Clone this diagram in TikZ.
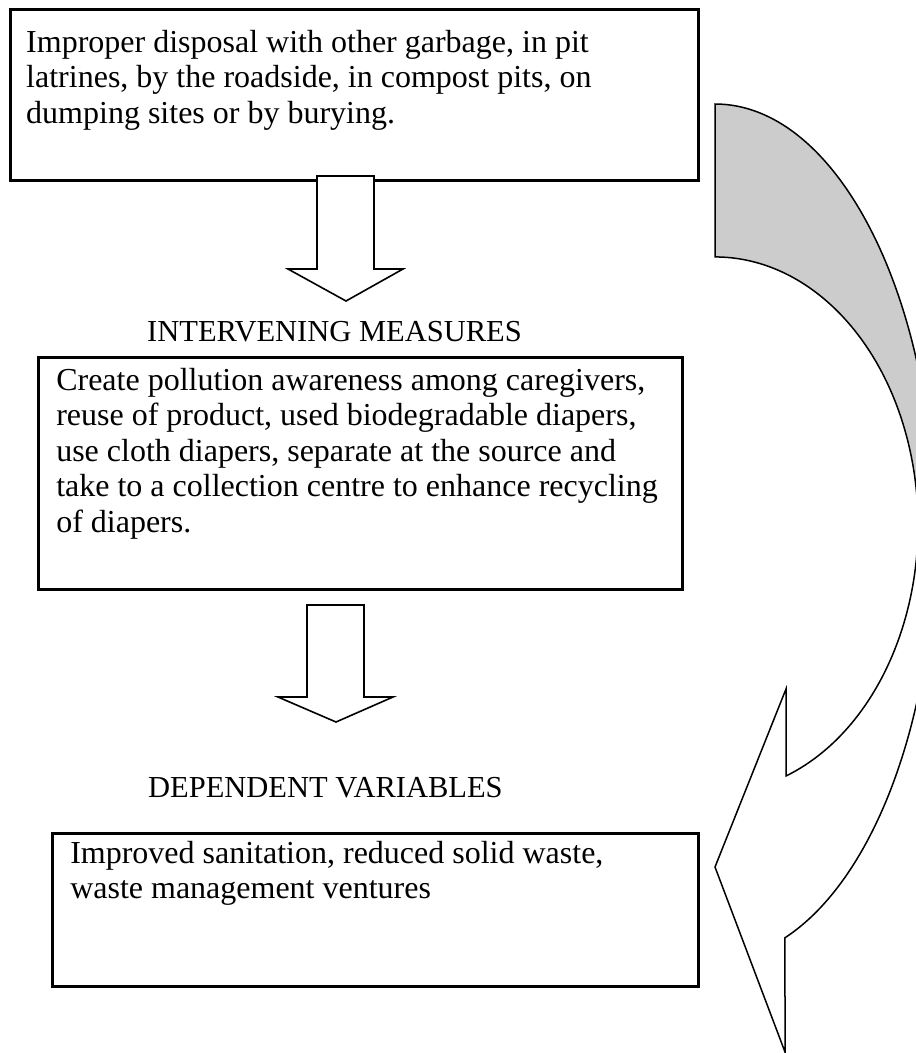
\documentclass[tikz,border=0pt]{standalone}
\usepackage{fontspec}
\setmainfont{Liberation Serif}

\tikzset{
	infobox/.style={draw=black, line width=2.5pt, anchor=north west, inner xsep=18pt},
	heading/.style={anchor=base west, inner sep=0pt, font=\fontsize{30.5}{34}\selectfont},
	blockarrow/.style={draw=black, fill=white, line width=1.6pt, line join=miter},
	bentarrow/.style={draw=black, line width=1.5pt, line join=miter},
}
\newcommand{\boxtext}[3]{\parbox[c][#1][t]{#2}{\fontsize{32}{35.5}\selectfont\raggedright #3}}

\begin{document}
\begin{tikzpicture}[x=1pt, y=-1pt]
	\useasboundingbox (0,0) rectangle (916,1053);
	\fill[white] (0,0) rectangle (916,1053);
	\clip (0,0) rectangle (916,1053);

	% boxes
	\node[infobox, inner xsep=16pt, inner ysep=21pt] (causes) at (9,8)
		{\boxtext{129pt}{656pt}{Improper disposal with other garbage, in pit\\latrines, by the roadside, in compost pits, on\\dumping sites or by burying.}};
	\node[heading] (intervening) at (147,341) {INTERVENING MEASURES};
	\node[infobox, inner ysep=11pt] (measures) at (37,356)
		{\boxtext{210pt}{608pt}{Create pollution awareness among caregivers,\\reuse of product, used biodegradable diapers,\\use cloth diapers, separate at the source and\\take to a collection centre to enhance recycling\\of diapers.}};
	\node[heading] (dependent) at (148,797) {DEPENDENT VARIABLES};
	\node[infobox, inner ysep=8pt] (outcomes) at (51,832)
		{\boxtext{137pt}{610pt}{Improved sanitation, reduced solid waste,\\waste management ventures}};

	% block arrows between the boxes
	\draw[blockarrow] (317,176) -- (317,269) -- (288,269) -- (346,301) -- (403,269) -- (374,269) -- (374,176) -- cycle;
	\draw[blockarrow] (307,605) -- (307,697) -- (278,697) -- (336,722) -- (393,697) -- (364,697) -- (364,605) -- cycle;

	% curved arrow on the right
	\coordinate (tailtop) at (715,104);
	\coordinate (tailbot) at (715,257);
	\fill[white] (tailtop) arc[start angle=-90, end angle=71.45, x radius=220, y radius=428]
		-- (785,1052) -- (715,867) -- (786,689) -- (786,776)
		arc[start angle=69.53, end angle=-90, x radius=203, y radius=268] -- cycle;
	\fill[black!20] (tailtop) arc[start angle=-90, end angle=0, x radius=220, y radius=428]
		-- (918,525) arc[start angle=0, end angle=-90, x radius=203, y radius=268] -- cycle;
	\draw[bentarrow] (tailtop) arc[start angle=-90, end angle=71.45, x radius=220, y radius=428]
		-- (785,1052) -- (715,867) -- (786,689) -- (786,776)
		arc[start angle=69.53, end angle=-90, x radius=203, y radius=268] -- cycle;
\end{tikzpicture}
\end{document}
